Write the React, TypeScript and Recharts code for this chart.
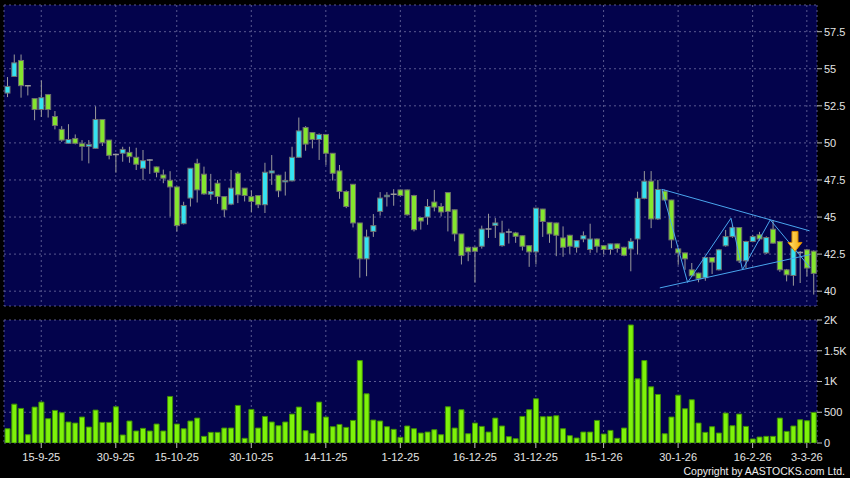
import React from "react";
import {
  ComposedChart,
  Bar,
  XAxis,
  YAxis,
  CartesianGrid,
  ReferenceLine,
  ReferenceDot,
} from "recharts";

// trading days, grouped by month
const months: [string, number[]][] = [
  ["9-25", [8, 9, 10, 11, 12, 15, 16, 17, 18, 19, 22, 23, 24, 25, 26, 29, 30]],
  ["10-25", [2, 3, 6, 8, 9, 10, 13, 14, 15, 16, 17, 20, 21, 22, 23, 24, 27, 28, 29, 30, 31]],
  ["11-25", [3, 4, 5, 6, 7, 10, 11, 12, 13, 14, 17, 18, 19, 20, 21, 24, 25, 26, 27, 28]],
  ["12-25", [1, 2, 3, 4, 5, 8, 9, 10, 11, 12, 15, 16, 17, 18, 19, 22, 23, 24, 29, 30, 31]],
  ["1-26", [2, 5, 6, 7, 8, 9, 12, 13, 14, 15, 16, 19, 20, 21, 22, 23, 26, 27, 28, 29, 30]],
  ["2-26", [2, 3, 4, 5, 6, 9, 10, 11, 12, 13, 16, 20, 23, 24, 25, 26, 27]],
  ["3-26", [2, 3, 4]],
];

const tickDates = [
  "15-9-25", "30-9-25", "15-10-25", "30-10-25", "14-11-25", "1-12-25",
  "16-12-25", "31-12-25", "15-1-26", "30-1-26", "16-2-26", "3-3-26",
];

const openP = [
  53.36, 54.48, 55.56, 53.86, 52.99, 52.25, 53.26, 51.78, 50.91, 49.97,
  50.3, 49.94, 49.77, 49.63, 51.58, 50.19, 49.22, 49.3, 49.36, 49.03,
  48.29, 48.85, 48.38, 47.84, 47.48, 47.03, 44.55, 46.28, 48.62, 47.89,
  46.54, 47.28, 46.38, 45.87, 47.95, 46.95, 46.38, 46.45, 45.83, 47.97,
  47.82, 47.4, 47.44, 49.03, 51.04, 50.7, 50.23, 50.57, 49.3, 48.11,
  46.72, 47.21, 44.6, 42.18, 44.03, 45.38, 46.42, 46.54, 46.83, 46.83,
  46.45, 44.97, 45.0, 46.01, 45.71, 46.65, 45.49, 43.86, 42.96, 42.96,
  43.03, 44.19, 44.44, 43.07, 43.99, 43.93, 43.74, 43.07, 42.65, 45.54,
  44.64, 44.6, 43.59, 43.77, 42.96, 43.52, 42.81, 43.52, 43.07, 42.81,
  43.19, 42.96, 42.85, 43.52, 46.26, 47.42, 44.87, 46.75, 46.15, 42.85,
  42.58, 41.44, 41.22, 40.91, 42.27, 41.44, 43.06, 43.68, 44.29, 42.05,
  43.35, 43.8, 42.58, 44.18, 43.35, 41.44, 41.06, 42.6, 42.79, 42.7,
];

const highP = [
  54.44, 55.96, 55.96, 53.88, 53.0, 54.21, 53.3, 52.15, 51.13, 51.26,
  50.57, 50.19, 50.19, 52.47, 51.6, 50.2, 49.28, 49.74, 49.74, 49.67,
  49.52, 48.9, 48.4, 48.2, 48.09, 47.05, 46.03, 48.3, 48.93, 48.4,
  47.91, 47.5, 46.4, 48.17, 48.06, 46.95, 46.79, 46.45, 48.66, 49.18,
  47.85, 48.06, 49.74, 51.71, 51.13, 50.7, 50.64, 50.6, 49.3, 48.51,
  46.8, 47.21, 44.6, 44.15, 45.2, 46.68, 46.68, 46.88, 46.85, 46.85,
  46.5, 45.0, 46.21, 46.83, 45.94, 46.65, 45.5, 43.86, 43.0, 43.0,
  44.42, 45.22, 44.93, 44.75, 44.21, 44.0, 43.75, 43.1, 45.6, 45.55,
  44.65, 44.62, 44.37, 43.8, 43.45, 44.03, 44.55, 43.55, 43.1, 43.2,
  43.2, 43.0, 43.57, 46.71, 48.1, 48.1, 47.5, 46.85, 46.16, 42.9,
  42.6, 41.9, 41.25, 42.3, 42.3, 42.85, 44.13, 44.47, 44.3, 43.4,
  43.8, 44.0, 43.7, 44.8, 43.4, 41.5, 43.0, 42.7, 42.85, 42.75,
];

const lowP = [
  53.09, 54.45, 53.05, 53.2, 51.53, 51.75, 51.71, 50.91, 50.07, 49.95,
  49.9, 48.8, 48.62, 49.6, 49.79, 48.89, 47.99, 48.73, 48.66, 48.17,
  47.5, 47.91, 47.68, 47.28, 45.04, 44.03, 44.5, 45.71, 45.98, 46.5,
  46.16, 45.89, 45.0, 45.8, 45.94, 46.05, 45.31, 45.6, 45.27, 47.17,
  46.34, 46.45, 47.4, 49.0, 49.47, 49.63, 48.85, 48.51, 47.46, 46.23,
  45.6, 44.3, 40.91, 41.01, 43.66, 45.09, 45.71, 45.76, 46.4, 45.1,
  44.03, 44.15, 44.48, 45.38, 45.04, 44.03, 43.36, 41.8, 42.02, 40.57,
  42.87, 43.59, 43.59, 43.0, 43.21, 43.26, 42.74, 41.64, 41.8, 43.66,
  43.26, 42.36, 42.32, 42.52, 42.6, 43.3, 42.58, 42.6, 42.47, 42.47,
  42.6, 42.35, 41.34, 42.47, 46.2, 44.25, 44.8, 46.1, 42.9, 41.78,
  41.44, 41.0, 40.6, 40.7, 41.16, 41.4, 43.0, 43.6, 41.9, 41.56,
  43.3, 43.4, 42.5, 43.2, 41.3, 40.66, 40.37, 40.55, 41.0, 39.77,
];

const closeP = [
  53.81, 55.4, 53.86, 53.86, 52.25, 53.05, 52.25, 51.17, 50.19, 50.23,
  49.97, 49.77, 49.9, 51.58, 50.01, 49.16, 49.22, 49.56, 49.07, 48.56,
  48.8, 48.85, 48.02, 47.62, 47.03, 44.42, 45.78, 48.29, 46.83, 46.56,
  46.72, 46.38, 45.49, 46.95, 46.5, 46.45, 46.05, 45.83, 48.02, 48.11,
  46.77, 47.47, 49.03, 50.81, 49.92, 50.23, 50.57, 49.3, 47.95, 46.72,
  45.71, 44.6, 42.18, 43.66, 44.42, 46.28, 46.47, 46.54, 46.45, 45.15,
  44.15, 44.73, 45.71, 45.67, 45.34, 45.38, 43.86, 42.4, 42.65, 42.69,
  44.19, 44.19, 44.6, 43.93, 43.99, 43.7, 43.03, 42.65, 45.6, 44.7,
  43.86, 43.77, 42.96, 43.03, 43.41, 43.74, 43.52, 43.03, 42.81, 43.19,
  42.88, 42.42, 43.36, 46.26, 47.42, 44.87, 46.86, 46.15, 43.46, 42.58,
  42.18, 41.04, 40.84, 42.27, 41.96, 42.79, 43.68, 44.29, 42.05, 43.35,
  43.68, 43.52, 43.62, 43.24, 41.44, 41.1, 42.9, 42.6, 41.56, 41.2,
];

const volume = [
  232, 632, 562, 135, 584, 665, 395, 530, 492, 341,
  324, 422, 259, 535, 335, 335, 589, 130, 357, 195,
  238, 195, 308, 195, 757, 308, 232, 357, 405, 108,
  173, 173, 243, 243, 611, 76, 546, 243, 432, 341,
  281, 341, 470, 584, 200, 157, 665, 422, 265, 302,
  254, 367, 1340, 800, 373, 357, 265, 222, 92, 276,
  232, 162, 178, 216, 135, 589, 243, 541, 151, 324,
  270, 178, 405, 276, 103, 70, 432, 541, 719, 427,
  432, 443, 232, 119, 81, 178, 178, 367, 146, 205,
  76, 243, 1919, 1043, 1340, 913, 789, 151, 422, 778,
  557, 703, 324, 173, 265, 162, 486, 281, 470, 270,
  65, 97, 108, 108, 405, 189, 276, 378, 362, 497,
];

const priceTicks = [40, 42.5, 45, 47.5, 50, 52.5, 55, 57.5];
const volumeTicks = [0, 500, 1000, 1500, 2000];

// drawn annotations, in (candle index, price)
const trendUpper = [{ x: 96.6, y: 46.87 }, { x: 118.4, y: 44.07 }];
const trendLower = [{ x: 96.3, y: 40.22 }, { x: 118.5, y: 42.47 }];
const zigzag = [
  { x: 96.6, y: 46.87 },
  { x: 100.4, y: 40.59 },
  { x: 106.8, y: 44.92 },
  { x: 108.5, y: 41.45 },
  { x: 112.6, y: 44.81 },
  { x: 118.5, y: 41.58 },
];
const arrowAt = { x: 116.25, y: 42.68 };

const dates = months.flatMap(([m, days]) => days.map((d) => `${d}-${m}`));
const rows = dates.map((date, i) => ({
  date,
  idx: i,
  open: openP[i],
  high: highP[i],
  low: lowP[i],
  close: closeP[i],
  volume: volume[i],
}));

const PANEL = "#03034c";
const GRID = "#5a5a90";
const UP = "#35e3f2";
const DOWN = "#84e62e";
const EDGE = "#6e6e6e";
const WICK = "#9a9a9a";
const LINE = "#4aa6ee";
const TEXT = "#e4e4e4";
const FONT = "'Liberation Sans', Arial, sans-serif";

const Candle = (props: any) => {
  const { x, y, width, height, payload } = props;
  if (!payload) return null;
  const { open, close, high, low } = payload;
  const top = Math.min(y, y + height);
  const h = Math.abs(height);
  const span = high - low || 1;
  const py = (v: number) => top + ((high - v) / span) * h;
  const cx = x + width / 2;
  const bTop = py(Math.max(open, close));
  const bBot = py(Math.min(open, close));
  return (
    <g>
      <line x1={cx} x2={cx} y1={top} y2={top + h} stroke={WICK} strokeWidth={1} />
      {open === close ? (
        <line x1={x - 0.5} x2={x + width + 0.5} y1={bTop} y2={bTop} stroke={WICK} strokeWidth={1.5} />
      ) : (
        <rect
          x={x}
          y={bTop}
          width={width}
          height={Math.max(bBot - bTop, 1.5)}
          fill={close > open ? UP : DOWN}
          stroke={EDGE}
          strokeWidth={1}
        />
      )}
    </g>
  );
};

const Arrow = (props: any) => {
  const { cx, cy } = props;
  if (cx == null || cy == null) return null;
  const pts = [
    [cx - 3, cy - 20],
    [cx + 3, cy - 20],
    [cx + 3, cy - 9],
    [cx + 7, cy - 9],
    [cx, cy],
    [cx - 7, cy - 9],
    [cx - 3, cy - 9],
  ]
    .map((p) => p.join(","))
    .join(" ");
  return (
    <g>
      <defs>
        <linearGradient id="arrowFill" x1="0" y1="0" x2="1" y2="0">
          <stop offset="0%" stopColor="#ffe27a" />
          <stop offset="100%" stopColor="#f5a800" />
        </linearGradient>
      </defs>
      <polygon points={pts} fill="url(#arrowFill)" stroke="#d98a00" strokeWidth={1} />
    </g>
  );
};

const fmtVol = (v: number) => (v >= 1000 ? `${v / 1000}K` : String(v));

export default function App() {
  return (
    <div
      style={{
        position: "absolute",
        left: 0,
        top: 0,
        width: 850,
        height: 478,
        background: "#000",
        fontFamily: FONT,
        overflow: "hidden",
      }}
    >
      <div style={{ position: "absolute", left: 0, top: 0 }}>
        <ComposedChart
          width={850}
          height={311}
          data={rows}
          margin={{ top: 5, right: 0, bottom: 5, left: 4 }}
          barCategoryGap={0}
        >
          <CartesianGrid
            stroke={GRID}
            strokeDasharray="2 3"
            fill={PANEL}
            fillOpacity={1}
          />
          <XAxis dataKey="date" ticks={tickDates} interval={0} hide />
          <XAxis
            xAxisId="n"
            type="number"
            dataKey="idx"
            domain={[-0.5, 119.5]}
            allowDataOverflow
            hide
          />
          <YAxis
            orientation="right"
            width={33}
            domain={[39.0, 59.3]}
            ticks={priceTicks}
            allowDataOverflow
            axisLine={false}
            tickSize={5}
            tickMargin={2}
            tickLine={{ stroke: "#bbbbbb" }}
            tick={{ fill: TEXT, fontSize: 11, fontFamily: FONT }}
            interval={0}
          />
          <Bar
            dataKey={(d: any) => [d.low, d.high]}
            barSize={5}
            shape={<Candle />}
            isAnimationActive={false}
          />
          <ReferenceLine
            xAxisId="n"
            segment={trendUpper}
            stroke={LINE}
            strokeWidth={1}
            ifOverflow="visible"
          />
          <ReferenceLine
            xAxisId="n"
            segment={trendLower}
            stroke={LINE}
            strokeWidth={1}
            ifOverflow="visible"
          />
          {zigzag.slice(1).map((p, i) => (
            <ReferenceLine
              key={i}
              xAxisId="n"
              segment={[zigzag[i], p]}
              stroke={LINE}
              strokeWidth={1}
              ifOverflow="visible"
            />
          ))}
          <ReferenceDot
            xAxisId="n"
            x={arrowAt.x}
            y={arrowAt.y}
            r={8}
            shape={<Arrow />}
            ifOverflow="visible"
          />
        </ComposedChart>
      </div>
      <div style={{ position: "absolute", left: 0, top: 311 }}>
        <ComposedChart
          width={850}
          height={167}
          data={rows}
          margin={{ top: 9, right: 0, bottom: 0, left: 4 }}
          barCategoryGap={0}
        >
          <CartesianGrid
            stroke={GRID}
            strokeDasharray="2 3"
            fill={PANEL}
            fillOpacity={1}
          />
          <XAxis
            dataKey="date"
            ticks={tickDates}
            interval={0}
            height={35}
            axisLine={false}
            tickSize={5}
            tickMargin={5}
            tickLine={{ stroke: "#bbbbbb" }}
            tick={{ fill: TEXT, fontSize: 11, fontFamily: FONT }}
          />
          <YAxis
            orientation="right"
            width={33}
            domain={[0, 2000]}
            ticks={volumeTicks}
            allowDataOverflow
            axisLine={false}
            tickSize={5}
            tickMargin={2}
            tickLine={{ stroke: "#bbbbbb" }}
            tick={{ fill: TEXT, fontSize: 11, fontFamily: FONT }}
            tickFormatter={fmtVol}
            interval={0}
          />
          <Bar
            dataKey="volume"
            barSize={5}
            fill="#7ef20a"
            stroke="#3f8f06"
            strokeWidth={1}
            isAnimationActive={false}
          />
        </ComposedChart>
      </div>
      <div
        style={{
          position: "absolute",
          right: 5,
          top: 465,
          fontSize: 10.5,
          color: "#eeeeee",
          fontFamily: FONT,
          whiteSpace: "nowrap",
        }}
      >
        Copyright by AASTOCKS.com Ltd.
      </div>
    </div>
  );
}
